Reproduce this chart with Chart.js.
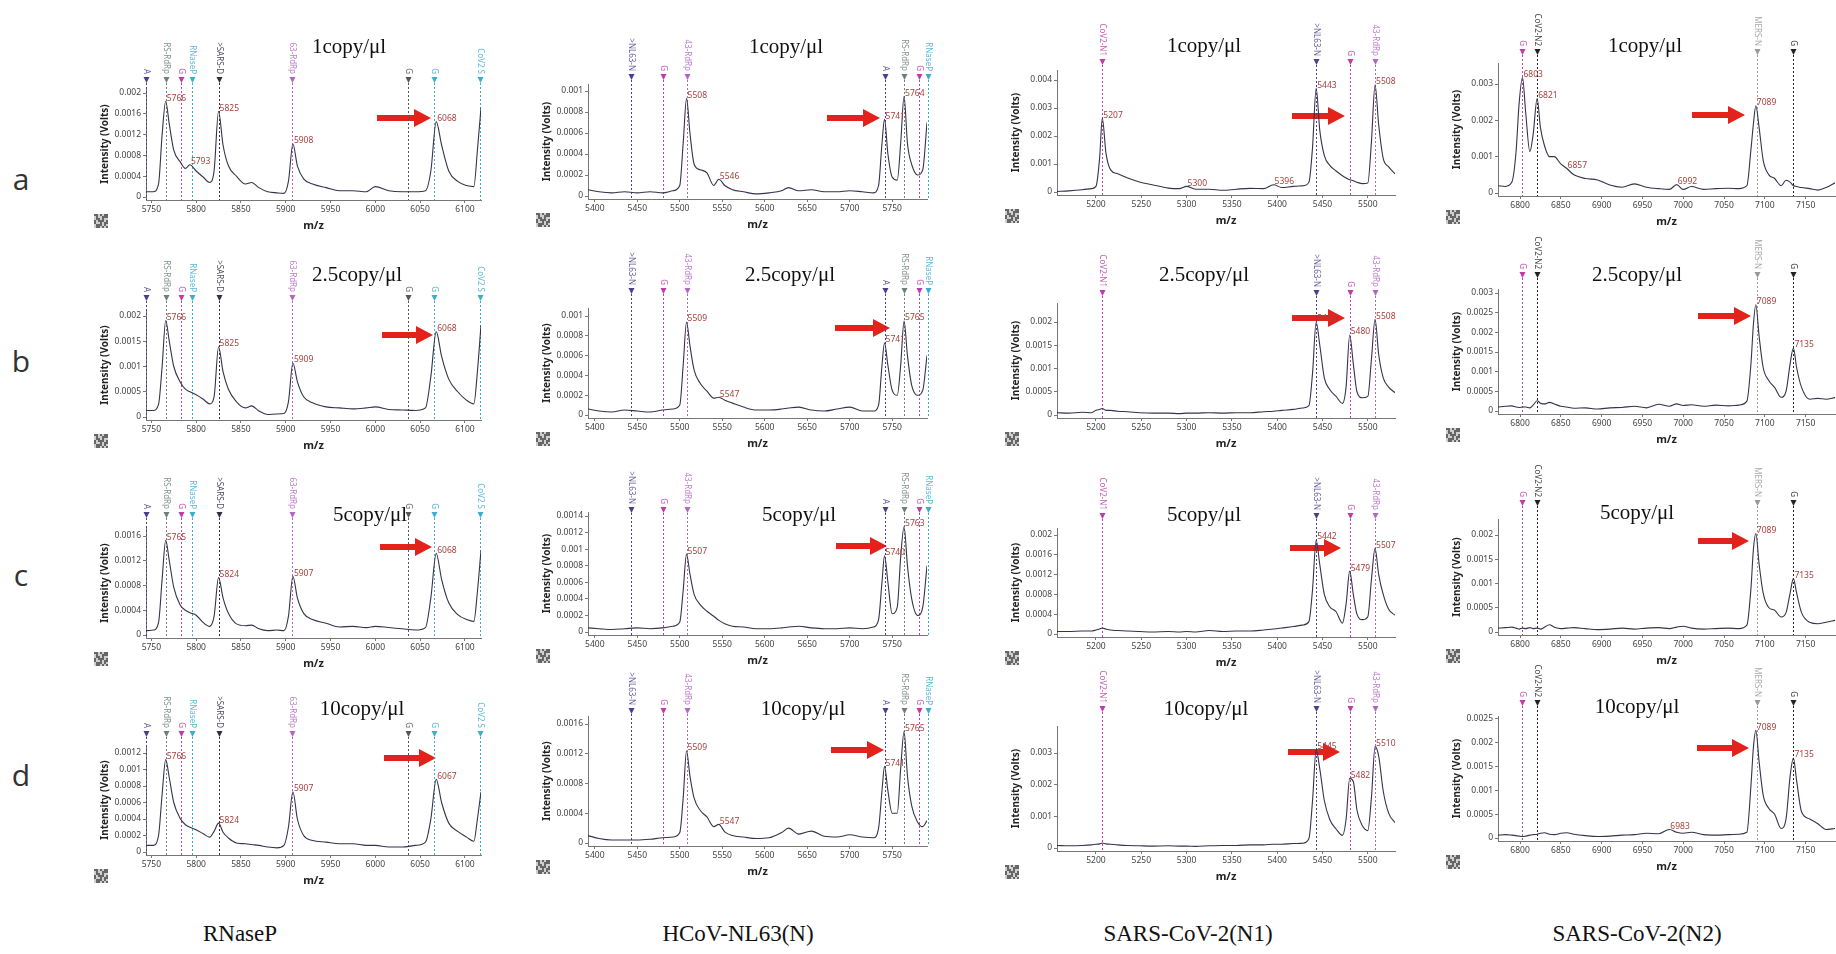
<!DOCTYPE html>
<html>
<head>
<meta charset="utf-8">
<script src="https://cdn.jsdelivr.net/npm/chart.js@4.4.0/dist/chart.umd.min.js"></script>
<style>
  body { margin: 0; width: 1836px; height: 954px; position: relative; overflow: hidden; background: #fff; }
  canvas { position: absolute; }
  .lbl { position: absolute; transform: translate(-50%, -50%); white-space: nowrap; color: #111; }
  .title { font: 21px "Liberation Serif", serif; }
  .col { font: 23px "Liberation Serif", serif; }
  .row { font: 30px "Open Sans", sans-serif; color: #333; }
  svg { position: absolute; left: 0; top: 0; }
</style>
</head>
<body>
<svg id="arrows" width="1836" height="954"></svg>
<script>
// ---- data -----------------------------------------------------------------
const rowNames = ['a', 'b', 'c', 'd'];
const concentrations = ['1copy/μl', '2.5copy/μl', '5copy/μl', '10copy/μl'];
const targets = ['RNaseP', 'HCoV-NL63(N)', 'SARS-CoV-2(N1)', 'SARS-CoV-2(N2)'];

// RNaseP
const mzRnase = [5744, 5752, 5758, 5762, 5766, 5770, 5775, 5782, 5788, 5793, 5800, 5808, 5815, 5820, 5825,
  5830, 5836, 5845, 5855, 5862, 5870, 5880, 5890, 5898, 5903, 5908, 5913, 5920, 5930, 5945, 5960, 5975,
  5990, 6000, 6015, 6030, 6045, 6056, 6062, 6068, 6074, 6082, 6092, 6102, 6110, 6114, 6118];
const rnase1 = [0.0001, 0.0001, 0.00025, 0.0012, 0.00184, 0.0014, 0.0009, 0.00068, 0.00055, 0.00062,
  0.0005, 0.00038, 0.00028, 0.0005, 0.00165, 0.001, 0.0006, 0.0004, 0.00025, 0.00028, 0.00018, 0.0001,
  0.00008, 0.00007, 0.0003, 0.00102, 0.0006, 0.00035, 0.00025, 0.00018, 0.00012, 0.00012, 0.0001, 0.0002,
  0.00012, 0.0001, 0.0001, 0.00012, 0.0005, 0.00145, 0.001, 0.0005, 0.0003, 0.00022, 0.0002, 0.0009, 0.00172];
const rnase25 = [0.00013, 0.00013, 0.00025, 0.001, 0.00191, 0.0015, 0.001, 0.0007, 0.00055, 0.0005,
  0.00044, 0.00035, 0.00026, 0.0004, 0.00139, 0.0009, 0.00055, 0.0003, 0.00018, 0.00022, 0.00012, 0.00005,
  0.00006, 0.00007, 0.0003, 0.00107, 0.0007, 0.0004, 0.00028, 0.0002, 0.00018, 0.00016, 0.00018, 0.0002,
  0.00015, 0.00014, 0.00013, 0.00018, 0.0008, 0.00169, 0.0012, 0.00075, 0.0005, 0.00033, 0.00026, 0.0009, 0.00182];
const rnase5 = [0.00007, 0.00008, 0.0002, 0.0009, 0.00153, 0.0012, 0.00077, 0.00049, 0.0004, 0.00036,
  0.00032, 0.0002, 0.00014, 0.0003, 0.00093, 0.0006, 0.00035, 0.00018, 0.00015, 0.00016, 0.0001, 0.00007,
  0.00008, 0.00007, 0.0003, 0.00095, 0.0006, 0.00035, 0.00025, 0.00019, 0.00013, 0.00014, 0.00012, 0.00014,
  0.00012, 0.0001, 0.00008, 0.00012, 0.0006, 0.00132, 0.0009, 0.00052, 0.00033, 0.00025, 0.00022, 0.0007, 0.00137];
const rnase10 = [0.00008, 0.00008, 0.0002, 0.0007, 0.00112, 0.0009, 0.0006, 0.00041, 0.00033, 0.0003,
  0.00027, 0.00022, 0.00018, 0.00025, 0.00035, 0.00024, 0.00017, 0.00011, 0.0001, 0.00009, 0.00008, 0.00006,
  0.00005, 0.00008, 0.0003, 0.00073, 0.0004, 0.0002, 0.00014, 0.00012, 0.0001, 0.0001, 0.00008, 0.00008,
  0.00006, 0.00006, 0.00008, 0.00012, 0.0004, 0.00088, 0.0006, 0.00035, 0.00025, 0.00018, 0.00013, 0.0004, 0.00073];

// HCoV-NL63 (N)
const mzNl63 = [5392, 5405, 5420, 5435, 5450, 5465, 5480, 5492, 5500, 5504, 5508, 5512, 5517, 5524, 5532,
  5540, 5546, 5553, 5562, 5575, 5590, 5605, 5620, 5628, 5640, 5655, 5670, 5685, 5700, 5715, 5728, 5734,
  5738, 5741, 5745, 5750, 5756, 5760, 5764, 5768, 5773, 5780, 5786, 5791];
const nl1 = [0.00006, 0.00004, 0.00003, 0.00004, 0.00003, 0.00004, 0.00003, 0.00005, 0.0001, 0.0005,
  0.00093, 0.0006, 0.0003, 0.00025, 0.00022, 0.0001, 0.00016, 0.0001, 0.00006, 0.00004, 0.00002, 0.00003,
  0.00005, 0.00008, 0.00005, 0.00006, 0.00004, 0.00004, 0.00005, 0.00004, 0.00003, 0.0001, 0.0005, 0.00073,
  0.0004, 0.00018, 0.00015, 0.0005, 0.00095, 0.0005, 0.0003, 0.0002, 0.00025, 0.0007];
const nl25 = [0.00006, 0.00004, 0.00003, 0.00005, 0.00004, 0.00003, 0.00005, 0.00006, 0.0001, 0.0005,
  0.00094, 0.0007, 0.00045, 0.00032, 0.00024, 0.00017, 0.00018, 0.00015, 0.00012, 0.00008, 0.00005, 0.00005,
  0.00006, 0.00007, 0.00008, 0.00005, 0.00004, 0.00006, 0.00008, 0.00004, 0.00004, 0.0001, 0.0005, 0.00073,
  0.0005, 0.00025, 0.0002, 0.0005, 0.00095, 0.0006, 0.0003, 0.0002, 0.00025, 0.0006];
const nl5 = [0.00005, 0.00004, 0.00003, 0.00004, 0.00005, 0.00004, 0.00005, 0.00007, 0.00012, 0.0005,
  0.00094, 0.0007, 0.00045, 0.00033, 0.00025, 0.00019, 0.00014, 0.0001, 0.00007, 0.00006, 0.00004, 0.00004,
  0.00005, 0.00006, 0.00007, 0.00005, 0.00004, 0.00004, 0.00005, 0.00004, 0.00006, 0.00015, 0.0006, 0.00092,
  0.0006, 0.00022, 0.0003, 0.0009, 0.00127, 0.0008, 0.0004, 0.0002, 0.0003, 0.0008];
const nl10 = [0.0001, 0.00006, 0.00004, 0.00004, 0.00004, 0.00005, 0.00007, 0.00008, 0.00014, 0.0006,
  0.00124, 0.0009, 0.0006, 0.00044, 0.00035, 0.00022, 0.00025, 0.00015, 0.0001, 0.00008, 0.00006, 0.00007,
  0.00014, 0.0002, 0.00012, 0.00016, 0.00009, 0.00008, 0.00011, 0.00008, 0.00007, 0.0002, 0.0007, 0.00103,
  0.0007, 0.0004, 0.0004, 0.001, 0.0015, 0.0009, 0.0005, 0.00028, 0.00022, 0.0003];

// SARS-CoV-2 (N1)
const mzN1 = [5157, 5170, 5185, 5195, 5200, 5204, 5207, 5211, 5216, 5224, 5235, 5248, 5262, 5280, 5292,
  5300, 5310, 5325, 5340, 5355, 5370, 5385, 5396, 5405, 5418, 5428, 5435, 5439, 5443, 5447, 5452, 5458,
  5465, 5472, 5476, 5480, 5484, 5488, 5494, 5500, 5504, 5508, 5512, 5517, 5523, 5530];
const n1_1 = [0.00002, 0.00004, 0.00008, 0.00012, 0.0002, 0.0012, 0.00264, 0.0014, 0.0008, 0.00065,
  0.0005, 0.00036, 0.00026, 0.00014, 0.00012, 0.0002, 0.0001, 0.0001, 0.00006, 0.0001, 0.00013, 0.00012,
  0.00026, 0.00016, 0.0002, 0.00022, 0.00035, 0.0016, 0.0037, 0.0022, 0.0013, 0.00095, 0.00075, 0.00058,
  0.0005, 0.00044, 0.0004, 0.00035, 0.0003, 0.00032, 0.0018, 0.00383, 0.0024, 0.0012, 0.0009, 0.00065];
const n1_25 = [0.00005, 0.00004, 0.00006, 0.00005, 0.0001, 0.00012, 0.00014, 0.0001, 0.0001, 0.00008,
  0.00007, 0.00005, 0.00004, 0.00004, 0.00003, 0.00004, 0.00004, 0.00005, 0.00004, 0.00005, 0.00005, 0.00007,
  0.00008, 0.0001, 0.00012, 0.00015, 0.0002, 0.0009, 0.002, 0.0015, 0.0008, 0.00055, 0.0004, 0.00025,
  0.0006, 0.00172, 0.0011, 0.0005, 0.00037, 0.0004, 0.0012, 0.00206, 0.0013, 0.0008, 0.0006, 0.00048];
const n1_5 = [0.00005, 0.00005, 0.00006, 0.00006, 0.00008, 0.0001, 0.00012, 0.0001, 0.00008, 0.00007,
  0.00006, 0.00005, 0.00004, 0.00005, 0.00004, 0.00005, 0.00004, 0.00007, 0.00005, 0.00006, 0.00006, 0.00008,
  0.0001, 0.00012, 0.00015, 0.00018, 0.00025, 0.0009, 0.0019, 0.0014, 0.0008, 0.00055, 0.00045, 0.00022,
  0.0006, 0.00127, 0.0008, 0.0004, 0.00029, 0.00035, 0.0011, 0.00173, 0.0012, 0.0008, 0.0005, 0.00038];
const n1_10 = [0.00008, 0.00007, 0.00008, 0.0001, 0.00012, 0.00013, 0.00016, 0.00013, 0.00012, 0.0001,
  0.00008, 0.00007, 0.00006, 0.00007, 0.00006, 0.00006, 0.00005, 0.00007, 0.00008, 0.00008, 0.0001, 0.0001,
  0.00012, 0.00012, 0.00014, 0.00015, 0.0003, 0.0015, 0.0031, 0.0025, 0.0015, 0.0009, 0.0006, 0.0004,
  0.0009, 0.0022, 0.0021, 0.0012, 0.0007, 0.00055, 0.0016, 0.0032, 0.0029, 0.0018, 0.0011, 0.0008];

// SARS-CoV-2 (N2)
const mzN2 = [6773, 6782, 6790, 6795, 6799, 6803, 6807, 6812, 6816, 6821, 6825, 6830, 6836, 6842, 6850,
  6857, 6866, 6880, 6895, 6910, 6925, 6940, 6955, 6970, 6983, 6992, 7000, 7010, 7025, 7040, 7055, 7068,
  7078, 7083, 7086, 7089, 7093, 7098, 7105, 7112, 7120, 7126, 7131, 7135, 7139, 7145, 7155, 7165, 7175, 7186];
const n2_1 = [0.0002, 0.00018, 0.0003, 0.0011, 0.0025, 0.00318, 0.0022, 0.00114, 0.0016, 0.0026,
  0.0018, 0.0013, 0.001, 0.001, 0.0008, 0.00068, 0.0005, 0.0004, 0.00036, 0.00022, 0.00016, 0.00025,
  0.00016, 0.00012, 0.0001, 0.00023, 0.0001, 0.00018, 0.0001, 0.00012, 0.00013, 0.00012, 0.0002, 0.0012,
  0.0019, 0.0024, 0.0018, 0.0009, 0.0005, 0.0004, 0.0002, 0.00035, 0.0003, 0.0002, 0.00018, 0.00015,
  0.00012, 0.00008, 0.00015, 0.00028];
const n2_25 = [0.0001, 0.00012, 0.00013, 0.0001, 0.00009, 0.0001, 0.0001, 0.00008, 0.00015, 0.00026,
  0.0002, 0.00018, 0.00022, 0.00018, 0.00012, 0.0001, 0.00007, 0.00008, 0.00005, 0.00008, 0.00009, 0.00012,
  0.00008, 0.00017, 0.00012, 0.00018, 0.00014, 0.00016, 0.00012, 0.00015, 0.00013, 0.00015, 0.00025, 0.0012,
  0.0022, 0.0027, 0.0019, 0.0011, 0.00077, 0.0006, 0.00035, 0.0005, 0.0012, 0.0016, 0.0011, 0.0006,
  0.0003, 0.00032, 0.0003, 0.00034];
const n2_5 = [0.00008, 0.00009, 0.0001, 0.00008, 0.00006, 0.00008, 0.00007, 0.00009, 0.00007, 0.00008,
  0.00006, 0.0001, 0.00015, 0.0001, 0.00007, 0.00008, 0.00009, 0.00007, 0.00005, 0.00006, 0.00008, 0.00006,
  0.00008, 0.00009, 0.00007, 0.0001, 0.00012, 0.00008, 0.00006, 0.00007, 0.00008, 0.00007, 0.00014, 0.0009,
  0.0017, 0.00203, 0.0014, 0.0008, 0.0005, 0.00045, 0.00031, 0.0004, 0.0008, 0.0011, 0.0008, 0.0004,
  0.0002, 0.00017, 0.0002, 0.00024];
const n2_10 = [0.00006, 0.00007, 0.00006, 0.00005, 0.00004, 0.00003, 0.00004, 0.00006, 0.00007, 0.00008,
  0.0001, 0.00011, 0.00008, 0.00007, 0.0001, 0.00011, 0.00008, 0.00005, 0.00003, 0.00004, 0.00006, 0.00007,
  0.0001, 0.00009, 0.00018, 0.00012, 0.0001, 0.00012, 0.00007, 0.00006, 0.00007, 0.00008, 0.00012, 0.0011,
  0.0019, 0.00226, 0.0016, 0.0009, 0.00062, 0.0005, 0.0002, 0.0004, 0.0013, 0.00168, 0.0012, 0.00055,
  0.0004, 0.0003, 0.00018, 0.0002];

// tick labels
const xTickSets = [
  [5750, 5800, 5850, 5900, 5950, 6000, 6050, 6100],
  [5400, 5450, 5500, 5550, 5600, 5650, 5700, 5750],
  [5200, 5250, 5300, 5350, 5400, 5450, 5500],
  [6800, 6850, 6900, 6950, 7000, 7050, 7100, 7150]
];
const yTickSets = [
  [[0, 0.0004, 0.0008, 0.0012, 0.0016, 0.002], [0, 0.0005, 0.001, 0.0015, 0.002],
   [0, 0.0004, 0.0008, 0.0012, 0.0016], [0, 0.0002, 0.0004, 0.0006, 0.0008, 0.001, 0.0012]],
  [[0, 0.0002, 0.0004, 0.0006, 0.0008, 0.001], [0, 0.0002, 0.0004, 0.0006, 0.0008, 0.001],
   [0, 0.0002, 0.0004, 0.0006, 0.0008, 0.001, 0.0012, 0.0014], [0, 0.0004, 0.0008, 0.0012, 0.0016]],
  [[0, 0.001, 0.002, 0.003, 0.004], [0, 0.0005, 0.001, 0.0015, 0.002],
   [0, 0.0004, 0.0008, 0.0012, 0.0016, 0.002], [0, 0.001, 0.002, 0.003]],
  [[0, 0.001, 0.002, 0.003], [0, 0.0005, 0.001, 0.0015, 0.002, 0.0025, 0.003],
   [0, 0.0005, 0.001, 0.0015, 0.002], [0, 0.0005, 0.001, 0.0015, 0.002, 0.0025]]
];

// labelled peaks
const peakSets = [
  [[5766, 5793, 5825, 5908, 6068], [5766, 5825, 5909, 6068], [5765, 5824, 5907, 6068], [5766, 5824, 5907, 6067]],
  [[5508, 5546, 5741, 5764], [5509, 5547, 5741, 5765], [5507, 5740, 5763], [5509, 5547, 5741, 5765]],
  [[5207, 5300, 5396, 5443, 5508], [5443, 5480, 5508], [5442, 5479, 5507], [5445, 5482, 5510]],
  [[6803, 6821, 6857, 6992, 7089], [7089, 7135], [7089, 7135], [6983, 7089, 7135]]
];

// expected-mass markers per assay
const markerMz = [
  [5744, 5766, 5783, 5795, 5825, 5907, 6037, 6066, 6117],
  [5443, 5480, 5508, 5741, 5764, 5781, 5792],
  [5207, 5443, 5480, 5508],
  [6803, 6821, 7090, 7135]
];
const markerNames = [
  ['A', 'RS-RdRp', 'G', 'RNaseP', '>SARS-D', '63-RdRp', 'G', 'G', 'CoV2 S'],
  ['>NL63-N', 'G', '43-RdRp', 'A', 'RS-RdRp', 'G', 'RNaseP'],
  ['CoV2-N1', '>NL63-N', 'G', '43-RdRp'],
  ['G', 'CoV2-N2', 'MERS-N', 'G']
];

const mzCols = [mzRnase, mzNl63, mzN1, mzN2];
const series = [
  [rnase1, rnase25, rnase5, rnase10],
  [nl1, nl25, nl5, nl10],
  [n1_1, n1_25, n1_5, n1_10],
  [n2_1, n2_25, n2_5, n2_10]
];

// ---- layout & style ---------------------------------------------------------
const markerColors = [
  ['#4a3f8c', '#6f7d7d', '#c03aa8', '#3aaed0', '#2f2f3f', '#b266c4', '#555', '#3aaed0', '#3aaed0'],
  ['#4a3f8c', '#c03aa8', '#b266c4', '#4a3f8c', '#6f7d7d', '#c03aa8', '#3aaed0'],
  ['#c03aa8', '#4a3f8c', '#c03aa8', '#b266c4'],
  ['#c03aa8', '#222', '#999', '#222']
];
const xRange = [[5744, 6118], [5392, 5791], [5157, 5530], [6773, 7186]];
const colX = [[146, 481], [588, 927], [1057, 1395], [1498, 1835]];
// per column, per row: axis top, top tick px, zero px, marker row px
const rowGeo = [
  [[88, 93, 197, 80], [310, 316, 417, 298], [528, 536, 635, 515], [745, 753, 852, 734]],
  [[84, 91, 196, 77], [308, 316, 415, 291], [512, 516, 632, 510], [716, 724, 843, 711]],
  [[70, 80, 192, 62], [303, 322, 415, 293], [528, 535, 634, 516], [726, 753, 848, 709]],
  [[63, 84, 193, 52], [289, 293, 411, 275], [519, 535, 632, 503], [716, 719, 838, 703]]
];
const titlePos = [
  [[349, 46], [786, 46], [1204, 45], [1645, 45]],
  [[357, 274], [790, 274], [1204, 274], [1637, 274]],
  [[370, 514], [799, 514], [1204, 514], [1637, 512]],
  [[362, 708], [803, 708], [1206, 708], [1637, 706]]
];
const arrowPos = [
  [[377, 431, 118], [827, 880, 118], [1292, 1345, 116], [1692, 1745, 115]],
  [[382, 433, 335], [835, 890, 328], [1292, 1345, 318], [1698, 1751, 316]],
  [[380, 432, 547], [836, 887, 546], [1290, 1341, 548], [1698, 1749, 541]],
  [[384, 436, 758], [831, 884, 750], [1288, 1340, 752], [1697, 1749, 748]]
];
const Y_W = 58;
const X_H = 34;
const TICK_FONT = { family: 'Noto Sans', size: 8.5 };
const qrBits = '1101011010011101101001011101100101101110100110101101011';

const decor = {
  id: 'decor',
  beforeDatasetsDraw(chart, args, o) {
    const { ctx, chartArea: ca, scales: { x } } = chart;
    o.markers.forEach((m) => {
      const px = Math.round(x.getPixelForValue(m.mz)) + 0.5;
      ctx.save();
      ctx.strokeStyle = m.color;
      ctx.lineWidth = 1;
      ctx.setLineDash([2, 2]);
      ctx.beginPath();
      ctx.moveTo(px, o.markerY + 3);
      ctx.lineTo(px, ca.bottom);
      ctx.stroke();
      ctx.setLineDash([]);
      ctx.fillStyle = m.color;
      ctx.beginPath();
      ctx.moveTo(px - 3, o.markerY - 3);
      ctx.lineTo(px + 3, o.markerY - 3);
      ctx.lineTo(px, o.markerY + 3);
      ctx.closePath();
      ctx.fill();
      ctx.globalAlpha = 0.85;
      ctx.translate(px, o.markerY - 6);
      ctx.rotate(Math.PI / 2);
      ctx.font = '8px "Noto Sans"';
      ctx.textAlign = 'right';
      ctx.textBaseline = 'middle';
      ctx.fillText(m.label, 0, 0);
      ctx.restore();
    });
  },
  afterDatasetsDraw(chart, args, o) {
    const { ctx, chartArea: ca, scales: { x, y } } = chart;
    ctx.save();
    // peak labels
    ctx.font = '8.5px "Noto Sans"';
    ctx.fillStyle = '#a8403c';
    ctx.textAlign = 'left';
    ctx.textBaseline = 'middle';
    o.peaks.forEach((p) => {
      let best = -1;
      o.mz.forEach((m, i) => {
        if (Math.abs(m - p) <= 4 && (best < 0 || o.ys[i] > o.ys[best])) best = i;
      });
      if (best < 0) return;
      ctx.fillText(String(p), x.getPixelForValue(o.mz[best]) + 1, y.getPixelForValue(o.ys[best]) - 3);
    });
    // axis titles
    ctx.fillStyle = '#222';
    ctx.font = 'bold 11px "Noto Sans"';
    ctx.textAlign = 'center';
    ctx.fillText('m/z', (ca.left + ca.right) / 2, ca.bottom + 26);
    ctx.font = 'bold 10px "Noto Sans"';
    ctx.translate(ca.left - 41, (ca.top + ca.bottom) / 2);
    ctx.rotate(-Math.PI / 2);
    ctx.fillText('Intensity (Volts)', 0, 0);
    ctx.restore();
    // little barcode box
    ctx.save();
    const qx = ca.left - 52, qy = ca.bottom + 14;
    ctx.fillStyle = '#d0d0d0';
    ctx.fillRect(qx, qy, 14, 14);
    ctx.fillStyle = '#666';
    for (let i = 0; i < 49; i++) {
      if (qrBits[i] === '1') ctx.fillRect(qx + (i % 7) * 2, qy + Math.floor(i / 7) * 2, 2, 2);
    }
    ctx.restore();
  }
};

function makePanel(r, c) {
  const [plotL, plotR] = colX[c];
  const [axisTop, tickPx, zeroPx, markerY] = rowGeo[c][r];
  const yTicks = yTickSets[c][r];
  const topVal = yTicks[yTicks.length - 1];
  const k = topVal / (zeroPx - tickPx);
  const bottom = zeroPx + 3;
  const canvasTop = markerY - 64;

  const cv = document.createElement('canvas');
  cv.width = plotR - plotL + Y_W + 8;
  cv.height = bottom + X_H - canvasTop;
  cv.style.left = (plotL - Y_W) + 'px';
  cv.style.top = canvasTop + 'px';
  document.body.appendChild(cv);

  const mz = mzCols[c];
  const ys = series[c][r];
  const markers = markerMz[c].map((m, i) => ({ mz: m, label: markerNames[c][i], color: markerColors[c][i] }));

  new Chart(cv, {
    type: 'line',
    data: {
      datasets: [{
        data: mz.map((m, i) => ({ x: m, y: ys[i] })),
        borderColor: '#34344a',
        borderWidth: 1.1,
        pointRadius: 0,
        cubicInterpolationMode: 'monotone',
        fill: false
      }]
    },
    options: {
      responsive: false,
      animation: false,
      devicePixelRatio: 1,
      layout: { padding: { top: axisTop - canvasTop, right: 8, left: 0, bottom: 0 } },
      plugins: {
        legend: { display: false },
        tooltip: { enabled: false },
        decor: { markers, markerY: markerY - canvasTop, peaks: peakSets[c][r], mz, ys }
      },
      scales: {
        x: {
          type: 'linear',
          min: xRange[c][0],
          max: xRange[c][1],
          afterBuildTicks: (s) => { s.ticks = xTickSets[c].map((v) => ({ value: v })); },
          afterFit: (s) => { s.height = X_H; s.paddingLeft = 0; s.paddingRight = 0; },
          ticks: { font: TICK_FONT, color: '#444', padding: 1, maxRotation: 0, autoSkip: false, callback: (v) => String(v) },
          grid: { drawOnChartArea: false, tickLength: 3, color: '#777' },
          border: { color: '#777' }
        },
        y: {
          min: -3 * k,
          max: topVal + (tickPx - axisTop) * k,
          afterBuildTicks: (s) => { s.ticks = yTicks.map((v) => ({ value: v })); },
          afterFit: (s) => { s.width = Y_W; s.paddingTop = 0; s.paddingBottom = 0; },
          ticks: { font: TICK_FONT, color: '#444', padding: 2, autoSkip: false, callback: (v) => String(v) },
          grid: { drawOnChartArea: false, tickLength: 3, color: '#777' },
          border: { color: '#777' }
        }
      }
    },
    plugins: [decor]
  });
}

function addText(cls, text, x, y) {
  const d = document.createElement('div');
  d.className = 'lbl ' + cls;
  d.textContent = text;
  d.style.left = x + 'px';
  d.style.top = y + 'px';
  document.body.appendChild(d);
}

for (let r = 0; r < 4; r++) {
  for (let c = 0; c < 4; c++) {
    makePanel(r, c);
    addText('title', concentrations[r], titlePos[r][c][0], titlePos[r][c][1]);
  }
}

[178, 360, 574, 774].forEach((y, r) => addText('row', rowNames[r], 21, y));
[240, 738, 1188, 1637].forEach((x, c) => addText('col', targets[c], x, 934));

const svg = document.getElementById('arrows');
arrowPos.flat().forEach(([x0, x1, y]) => {
  const p = document.createElementNS('http://www.w3.org/2000/svg', 'path');
  p.setAttribute('d', `M${x0} ${y - 3} L${x1 - 17} ${y - 3} L${x1 - 17} ${y - 9} L${x1} ${y} L${x1 - 17} ${y + 9} L${x1 - 17} ${y + 3} L${x0} ${y + 3} Z`);
  p.setAttribute('fill', '#e3221c');
  svg.appendChild(p);
});
</script>
</body>
</html>
